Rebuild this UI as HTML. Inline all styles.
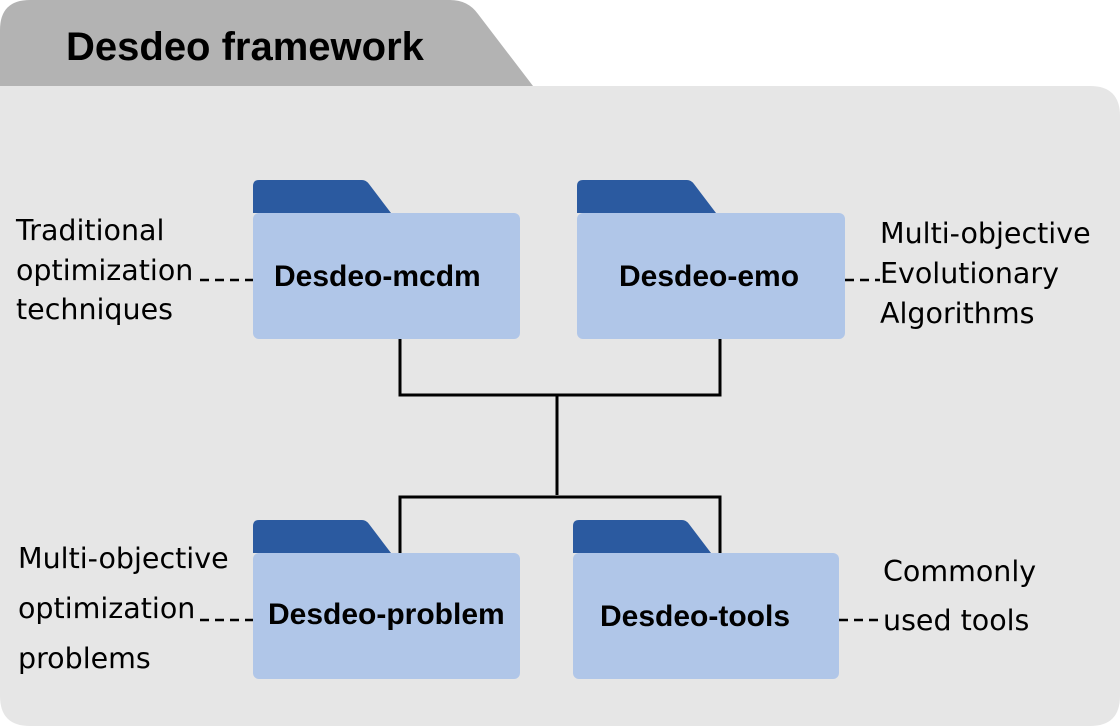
<!DOCTYPE html>
<html><head><style>body{margin:0;background:#fff}svg{display:block}</style></head><body>
<svg width="1120" height="726" viewBox="0 0 1120 726" xmlns="http://www.w3.org/2000/svg">
<path d="M0 86 V30 Q0 0 30 0 H450 Q468 0 478 14 L533 86 Z" fill="#b3b3b3"/>
<path d="M0 86 H1090 Q1120 86 1120 116 V696 Q1120 726 1090 726 H30 Q0 726 0 696 Z" fill="#e6e6e6"/>
<text x="66" y="60" font-family="Liberation Sans Narrow, Liberation Sans, sans-serif" font-weight="bold" font-size="40" fill="#000">Desdeo framework</text>
<g fill="none" stroke="#000" stroke-width="3">
<path d="M400 339 V395 H720 V339"/>
<path d="M557 395 V495"/>
<path d="M400 553 V497 H720 V553"/>
</g>
<g fill="none" stroke="#000" stroke-width="2.5" stroke-dasharray="9,6">
<path d="M200 280 H253"/><path d="M845 280 H880"/><path d="M200 620 H253"/><path d="M839 620 H880"/>
</g>
<g>
<path d="M253 213 V186 Q253 180 259 180 H362 Q366 180 369 184 L391 213 Z" fill="#2b5aa0"/>
<rect x="253" y="213" width="267" height="126" rx="6" fill="#b0c6e8"/>
<path d="M577 213 V186 Q577 180 583 180 H687 Q691 180 694 184 L716 213 Z" fill="#2b5aa0"/>
<rect x="577" y="213" width="268" height="126" rx="6" fill="#b0c6e8"/>
<path d="M253 553 V526 Q253 520 259 520 H362 Q366 520 369 524 L391 553 Z" fill="#2b5aa0"/>
<rect x="253" y="553" width="267" height="126" rx="6" fill="#b0c6e8"/>
<path d="M573 553 V526 Q573 520 579 520 H682 Q686 520 689 524 L711 553 Z" fill="#2b5aa0"/>
<rect x="573" y="553" width="266" height="126" rx="6" fill="#b0c6e8"/>
</g>
<g font-family="Liberation Sans Narrow, Liberation Sans, sans-serif" font-weight="bold" font-size="30" fill="#000">
<text x="274" y="286">Desdeo-mcdm</text>
<text x="619" y="286">Desdeo-emo</text>
<text x="268" y="624">Desdeo-problem</text>
<text x="600" y="626">Desdeo-tools</text>
</g>
<g font-family="DejaVu Sans, sans-serif" font-size="28.5" fill="#000">
<text x="16" y="240">Traditional</text>
<text x="16" y="280">optimization</text>
<text x="16" y="319">techniques</text>
<text x="880" y="243">Multi-objective</text>
<text x="880" y="283">Evolutionary</text>
<text x="880" y="323">Algorithms</text>
<text x="18" y="568">Multi-objective</text>
<text x="18" y="618">optimization</text>
<text x="18" y="668">problems</text>
<text x="883" y="581">Commonly</text>
<text x="883" y="630">used tools</text>
</g>
</svg>
</body></html>
